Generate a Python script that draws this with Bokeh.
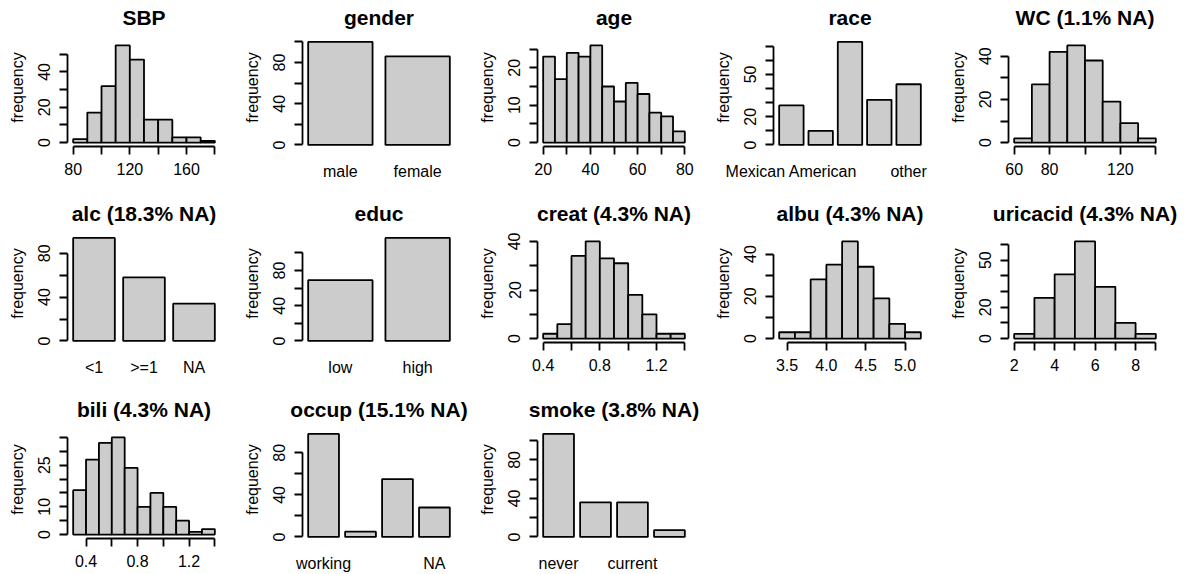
import math
from bokeh.plotting import figure
from bokeh.layouts import column, row
from bokeh.models import FixedTicker, Range1d
from bokeh.embed import file_html
from bokeh.resources import INLINE

# ---------------- data ----------------
sbp_breaks = [80, 90, 100, 110, 120, 130, 140, 150, 160, 170, 180]
sbp_counts = [2, 17, 32, 55, 47, 13, 13, 3, 3, 1]
sbp_xticks = [80, 100, 120, 140, 160, 180]
sbp_xlabels = ["80", "", "120", "", "160", ""]
sbp_yticks = [0, 10, 20, 30, 40, 50]
sbp_ylabels = ["0", "", "20", "", "40", ""]

gender_names = ["male", "female"]
gender_counts = [100, 86]
gender_labels = ["male", "female"]
gender_yticks = [0, 20, 40, 60, 80, 100]
gender_ylabels = ["0", "", "40", "", "80", ""]

age_breaks = [20, 25, 30, 35, 40, 45, 50, 55, 60, 65, 70, 75, 80]
age_counts = [23, 17, 24, 23, 26, 15, 11, 16, 13, 8, 7, 3]
age_xticks = [20, 30, 40, 50, 60, 70, 80]
age_xlabels = ["20", "", "40", "", "60", "", "80"]
age_yticks = [0, 5, 10, 15, 20, 25]
age_ylabels = ["0", "", "10", "", "20", ""]

race_names = ["Mexican American", "Other Hispanic", "Non-Hispanic White", "Non-Hispanic Black", "other"]
race_counts = [28, 10, 73, 32, 43]
race_labels = ["Mexican American", "", "", "", "other"]
race_yticks = [0, 10, 20, 30, 40, 50, 60, 70]
race_ylabels = ["0", "", "20", "", "", "50", "", ""]

wc_breaks = [60, 70, 80, 90, 100, 110, 120, 130, 140]
wc_counts = [2, 27, 42, 45, 38, 19, 9, 2]
wc_xticks = [60, 80, 100, 120, 140]
wc_xlabels = ["60", "80", "", "120", ""]
wc_yticks = [0, 10, 20, 30, 40]
wc_ylabels = ["0", "", "20", "", "40"]

alc_names = ["<1", ">=1", "NA"]
alc_counts = [94, 58, 34]
alc_labels = ["<1", ">=1", "NA"]
alc_yticks = [0, 20, 40, 60, 80]
alc_ylabels = ["0", "", "40", "", "80"]

educ_names = ["low", "high"]
educ_counts = [69, 117]
educ_labels = ["low", "high"]
educ_yticks = [0, 20, 40, 60, 80, 100]
educ_ylabels = ["0", "", "40", "", "80", ""]

creat_breaks = [0.4, 0.5, 0.6, 0.7, 0.8, 0.9, 1.0, 1.1, 1.2, 1.3, 1.4]
creat_counts = [2, 6, 34, 40, 33, 31, 18, 10, 2, 2]
creat_xticks = [0.4, 0.6, 0.8, 1.0, 1.2, 1.4]
creat_xlabels = ["0.4", "", "0.8", "", "1.2", ""]
creat_yticks = [0, 10, 20, 30, 40]
creat_ylabels = ["0", "", "20", "", "40"]

albu_breaks = [3.4, 3.6, 3.8, 4.0, 4.2, 4.4, 4.6, 4.8, 5.0, 5.2]
albu_counts = [3, 3, 28, 35, 46, 34, 19, 7, 3]
albu_xticks = [3.5, 4.0, 4.5, 5.0]
albu_xlabels = ["3.5", "4.0", "4.5", "5.0"]
albu_yticks = [0, 10, 20, 30, 40]
albu_ylabels = ["0", "", "20", "", "40"]

uric_breaks = [2, 3, 4, 5, 6, 7, 8, 9]
uric_counts = [3, 26, 41, 62, 33, 10, 3]
uric_xticks = [2, 3, 4, 5, 6, 7, 8, 9]
uric_xlabels = ["2", "", "4", "", "6", "", "8", ""]
uric_yticks = [0, 10, 20, 30, 40, 50, 60]
uric_ylabels = ["0", "", "20", "", "", "50", ""]

bili_breaks = [0.3, 0.4, 0.5, 0.6, 0.7, 0.8, 0.9, 1.0, 1.1, 1.2, 1.3, 1.4]
bili_counts = [16, 27, 33, 35, 24, 10, 15, 10, 5, 1, 2]
bili_xticks = [0.4, 0.6, 0.8, 1.0, 1.2, 1.4]
bili_xlabels = ["0.4", "", "0.8", "", "1.2", ""]
bili_yticks = [0, 5, 10, 15, 20, 25, 30, 35]
bili_ylabels = ["0", "", "10", "", "", "25", "", ""]

occup_names = ["working", "looking for work", "not working", "NA"]
occup_counts = [98, 5, 55, 28]
occup_labels = ["working", "", "", "NA"]
occup_yticks = [0, 20, 40, 60, 80]
occup_ylabels = ["0", "", "40", "", "80"]

smoke_names = ["never", "former", "current", "NA"]
smoke_counts = [107, 36, 36, 7]
smoke_labels = ["never", "", "current", ""]
smoke_yticks = [0, 20, 40, 60, 80, 100]
smoke_ylabels = ["0", "", "40", "", "80", ""]

# ---------------- style / layout ----------------
FONT = "Liberation Sans"
TICK_FS = "16px"
TITLE_FS = "21px"
LW = 1.8
FILL = "#CCCCCC"
COL_W = [235, 235, 236, 235, 244]
ROW_H = [196, 196, 182]
FRAME_L = 67
FRAME_W = 153
PLOT_T = 41       # top of the visible plotting region
PLOT_H = 105      # height of the visible plotting region
EXTRA_T = 13      # invisible headroom above it (keeps the title high)
FRAME_T = PLOT_T - EXTRA_T
FRAME_H = PLOT_H + EXTRA_T


def padded(lo, hi):
    return (lo, hi + EXTRA_T * (hi - lo) / PLOT_H)


def base_fig(title, w, h, xr, yr):
    p = figure(width=w, height=h, output_backend="svg", toolbar_location=None,
               x_range=Range1d(*xr), y_range=Range1d(*padded(*yr)),
               min_border_left=FRAME_L, min_border_right=w - FRAME_L - FRAME_W,
               min_border_top=FRAME_T, min_border_bottom=h - FRAME_T - FRAME_H)
    p.outline_line_color = None
    p.grid.visible = False
    p.background_fill_color = "white"
    p.border_fill_color = "white"
    p.title.text = title
    p.title.align = "center"
    p.title.text_font = FONT
    p.title.text_font_size = TITLE_FS
    p.title.text_font_style = "bold"
    p.title.text_color = "black"
    p.title.standoff = 0
    return p


def style_axis(ax):
    ax.axis_line_width = LW
    ax.axis_line_color = "black"
    ax.major_tick_line_width = LW
    ax.major_tick_line_color = "black"
    ax.major_tick_out = 8
    ax.major_tick_in = 0
    ax.minor_tick_line_color = None
    ax.major_label_text_font = FONT
    ax.major_label_text_font_size = TICK_FS
    ax.major_label_text_color = "black"


def set_yaxis(p, yticks, ylabels):
    ax = p.yaxis[0]
    style_axis(ax)
    ax.ticker = FixedTicker(ticks=yticks)
    ax.major_label_overrides = {t: l for t, l in zip(yticks, ylabels)}
    ax.bounds = (yticks[0], yticks[-1])
    ax.major_label_orientation = "vertical"
    ax.major_label_standoff = 9
    ax.axis_label = "frequency"
    ax.axis_label_text_font = FONT
    ax.axis_label_text_font_size = TICK_FS
    ax.axis_label_text_font_style = "normal"
    ax.axis_label_text_color = "black"
    ax.axis_label_standoff = 10


def hist_panel(title, breaks, counts, xticks, xlabels, yticks, ylabels, w, h):
    xspan = breaks[-1] - breaks[0]
    ymax = max(counts)
    p = base_fig(title, w, h,
                 (breaks[0] - 0.04 * xspan, breaks[-1] + 0.04 * xspan),
                 (-0.04 * ymax, 1.04 * ymax))
    p.quad(left=breaks[:-1], right=breaks[1:], bottom=0, top=counts,
           fill_color=FILL, line_color="black", line_width=LW)
    ax = p.xaxis[0]
    style_axis(ax)
    ax.ticker = FixedTicker(ticks=xticks)
    ax.major_label_overrides = {t: l for t, l in zip(xticks, xlabels)}
    ax.bounds = (xticks[0], xticks[-1])
    ax.major_label_standoff = 8
    set_yaxis(p, yticks, ylabels)
    return p


def bar_panel(title, names, counts, labels, yticks, ylabels, w, h):
    n = len(names)
    lefts = [0.2 + 1.2 * i for i in range(n)]
    rights = [1.2 * (i + 1) for i in range(n)]
    mids = [0.7 + 1.2 * i for i in range(n)]
    xspan = rights[-1] - lefts[0]
    ymax = max(counts)
    p = base_fig(title, w, h,
                 (lefts[0] - 0.04 * xspan, rights[-1] + 0.04 * xspan),
                 (-0.015 * ymax, 1.004 * ymax))
    p.quad(left=lefts, right=rights, bottom=0, top=counts,
           fill_color=FILL, line_color="black", line_width=LW)
    ax = p.xaxis[0]
    style_axis(ax)
    ax.axis_line_color = None
    ax.major_tick_line_color = None
    ax.ticker = FixedTicker(ticks=mids)
    ax.major_label_overrides = {t: l for t, l in zip(mids, labels)}
    ax.major_label_standoff = 8
    set_yaxis(p, yticks, ylabels)
    return p


r1 = [
    hist_panel("SBP", sbp_breaks, sbp_counts, sbp_xticks, sbp_xlabels, sbp_yticks, sbp_ylabels, COL_W[0], ROW_H[0]),
    bar_panel("gender", gender_names, gender_counts, gender_labels, gender_yticks, gender_ylabels, COL_W[1], ROW_H[0]),
    hist_panel("age", age_breaks, age_counts, age_xticks, age_xlabels, age_yticks, age_ylabels, COL_W[2], ROW_H[0]),
    bar_panel("race", race_names, race_counts, race_labels, race_yticks, race_ylabels, COL_W[3], ROW_H[0]),
    hist_panel("WC (1.1% NA)", wc_breaks, wc_counts, wc_xticks, wc_xlabels, wc_yticks, wc_ylabels, COL_W[4], ROW_H[0]),
]
r2 = [
    bar_panel("alc (18.3% NA)", alc_names, alc_counts, alc_labels, alc_yticks, alc_ylabels, COL_W[0], ROW_H[1]),
    bar_panel("educ", educ_names, educ_counts, educ_labels, educ_yticks, educ_ylabels, COL_W[1], ROW_H[1]),
    hist_panel("creat (4.3% NA)", creat_breaks, creat_counts, creat_xticks, creat_xlabels, creat_yticks, creat_ylabels, COL_W[2], ROW_H[1]),
    hist_panel("albu (4.3% NA)", albu_breaks, albu_counts, albu_xticks, albu_xlabels, albu_yticks, albu_ylabels, COL_W[3], ROW_H[1]),
    hist_panel("uricacid (4.3% NA)", uric_breaks, uric_counts, uric_xticks, uric_xlabels, uric_yticks, uric_ylabels, COL_W[4], ROW_H[1]),
]
r3 = [
    hist_panel("bili (4.3% NA)", bili_breaks, bili_counts, bili_xticks, bili_xlabels, bili_yticks, bili_ylabels, COL_W[0], ROW_H[2]),
    bar_panel("occup (15.1% NA)", occup_names, occup_counts, occup_labels, occup_yticks, occup_ylabels, COL_W[1], ROW_H[2]),
    bar_panel("smoke (3.8% NA)", smoke_names, smoke_counts, smoke_labels, smoke_yticks, smoke_ylabels, COL_W[2], ROW_H[2]),
]

layout = column(row(*r1), row(*r2), row(*r3))
open("out.html", "w").write(file_html(layout, INLINE))
